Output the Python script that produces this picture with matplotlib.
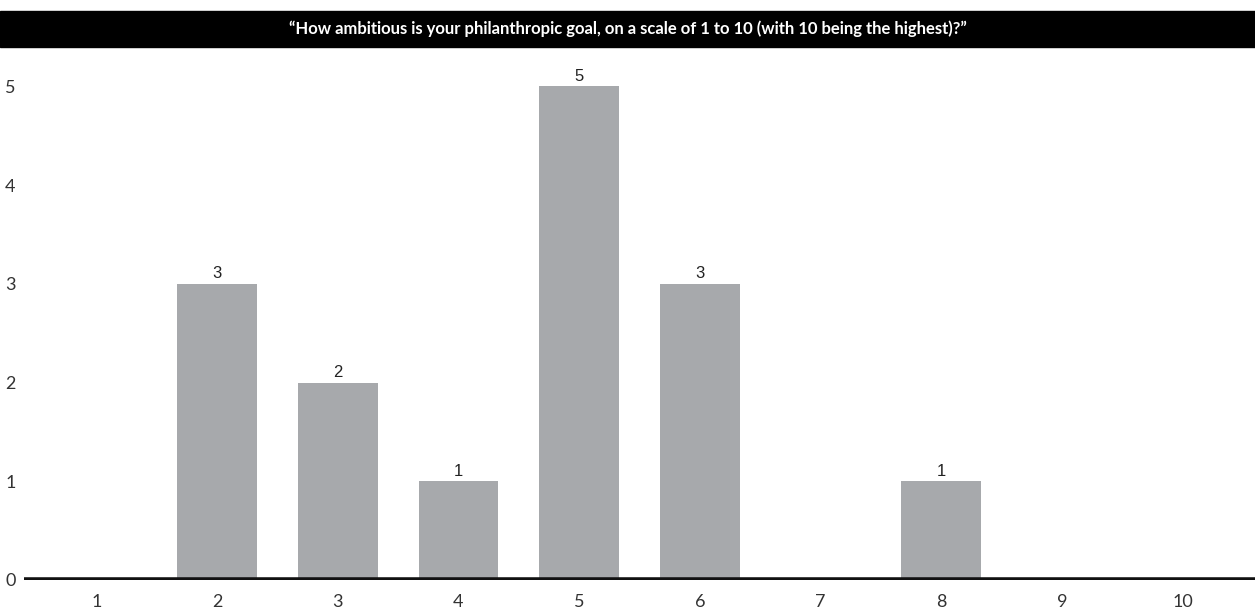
import matplotlib.pyplot as plt
from matplotlib.patches import Rectangle

# survey answers: scale 1..10 and how many picked each
scores = [1, 2, 3, 4, 5, 6, 7, 8, 9, 10]
counts = [0, 3, 2, 1, 5, 3, 0, 1, 0, 0]
title = '\u201cHow ambitious is your philanthropic goal, on a scale of 1 to 10 (with 10 being the highest)?\u201d'

fig = plt.figure(figsize=(12.55, 6.14), dpi=100)
ax = fig.add_axes([24 / 1255, 34 / 614, 1 - 24 / 1255, 533 / 614])

bars = ax.bar(scores, counts, width=0.66, color='#a7a9ac', zorder=2)
for bar, c in zip(bars, counts):
    if c > 0:
        ax.annotate(str(c), xy=(bar.get_x() + bar.get_width() / 2, c),
                    xytext=(0, 2), textcoords='offset points',
                    ha='center', va='bottom', fontsize=12,
                    family='Liberation Sans', color='#222222')

ax.axhline(0, color='#111111', lw=4, zorder=3)
ax.set_xlim(0.4, 10.6)
ax.set_ylim(0, 5.4)
ax.set_xticks(scores)
ax.set_xticklabels([str(s) for s in scores], fontsize=13, family='Lato', color='#333333')
ax.set_yticks(range(6))
ax.set_yticklabels([str(v) for v in range(6)], fontsize=13, family='Lato', color='#333333')
ax.tick_params(length=0, pad=10)
ax.tick_params(axis='y', pad=6)
for s in ax.spines.values():
    s.set_visible(False)

# black title band across the top
fig.patches.append(Rectangle((0, 1 - 47 / 614), 1, 36 / 614, transform=fig.transFigure,
                             color='black', zorder=0))
fig.text(0.5, 1 - 29 / 614, title, ha='center', va='center', color='white',
         fontsize=12, fontweight='bold', family='Lato')

plt.savefig('out.png', dpi=100)
